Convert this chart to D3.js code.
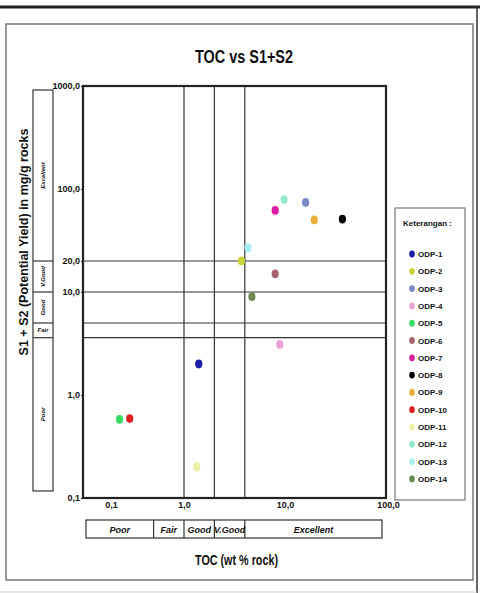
<!DOCTYPE html>
<html><head><meta charset="utf-8">
<script src="https://cdn.jsdelivr.net/npm/d3@7"></script>
<style>
html,body{margin:0;padding:0;background:#fff;}
text{font-family:"Liberation Sans Narrow","Arial Narrow","Liberation Sans",Arial,sans-serif;font-weight:bold;fill:#111;}
</style></head>
<body><svg id="c" width="480" height="593"></svg>
<script>
// ---- data ----
const wells = ["ODP-1","ODP-2","ODP-3","ODP-4","ODP-5","ODP-6","ODP-7","ODP-8","ODP-9","ODP-10","ODP-11","ODP-12","ODP-13","ODP-14"];
const toc   = [1.4, 3.7, 16, 8.9, 0.23, 8.0, 8.0, 37, 19.5, 0.29, 1.34, 9.8, 4.3, 4.7];
const s1s2  = [2.0, 20, 74, 3.1, 0.58, 15, 62, 51, 50, 0.59, 0.2, 79, 27, 9.0];
const colors = ["#1c1ca8","#c9d33c","#7b89c9","#eaa3d3","#35dc68","#a8636f","#dc1ca3","#000000","#e9b035","#dc2121","#eef0a8","#93e9cc","#a6f0f2","#6b8b52"];
const xTicks = [0.1, 1, 10, 100];
const xTickLabels = ["0,1","1,0","10,0","100,0"];
const yTicks = [0.1, 1, 10, 20, 100, 1000];
const yTickLabels = ["0,1","1,0","10,0","20,0","100,0","1000,0"];
const xGrid = [1, 2, 4];
const yGrid = [3.6, 5, 10, 20];
const xClassBounds = [0.5, 1, 2, 4];
const xClasses = ["Poor","Fair","Good","V.Good","Excellent"];
const yClassBounds = [3.6, 5, 10, 20];
const yClasses = ["Poor","Fair","Good","V.Good","Excellent"];

const svg = d3.select("#c");
// outer frames
svg.append("line").attr("x1",0).attr("x2",480).attr("y1",7).attr("y2",7).attr("stroke","#222").attr("stroke-width",3);
svg.append("line").attr("x1",477).attr("x2",477).attr("y1",6).attr("y2",593).attr("stroke","#333").attr("stroke-width",1.5);
svg.append("line").attr("x1",0).attr("x2",477).attr("y1",592).attr("y2",592).attr("stroke","#ccc").attr("stroke-width",1);
svg.append("rect").attr("x",6).attr("y",24).attr("width",467).attr("height",556).attr("fill","none").attr("stroke","#777").attr("stroke-width",1.5);

const x = d3.scaleLog().domain([0.1,100]).range([83,386]);
const y = d3.scaleLog().domain([0.1,1000]).range([498,86]);

// title
svg.append("text").attr("x",195).attr("y",63).style("font-size","19px")
  .attr("textLength",98).attr("lengthAdjust","spacingAndGlyphs").text("TOC  vs  S1+S2");

// grid
const g = svg.append("g");
g.selectAll(".vg").data(xGrid).join("line").attr("x1",d=>x(d)).attr("x2",d=>x(d)).attr("y1",y(1000)).attr("y2",y(0.1)).attr("stroke","#333").attr("stroke-width",1.2);
g.selectAll(".hg").data(yGrid).join("line").attr("x1",x(0.1)).attr("x2",x(100)).attr("y1",d=>y(d)).attr("y2",d=>y(d)).attr("stroke","#333").attr("stroke-width",1.2);
// frame
svg.append("rect").attr("x",x(0.1)).attr("y",y(1000)).attr("width",x(100)-x(0.1)).attr("height",y(0.1)-y(1000)).attr("fill","none").attr("stroke","#222").attr("stroke-width",2.2);

// axes
const xa = svg.append("g").attr("transform",`translate(0,${y(0.1)})`)
  .call(d3.axisBottom(x).tickValues(xTicks).tickSize(0).tickPadding(4).tickFormat((d,i)=>xTickLabels[i]));
xa.select(".domain").remove();
xa.selectAll("text").style("font-size","9px").attr("dx",(d,i)=>i===0?28:(i===3?2:0));
const ya = svg.append("g").attr("transform",`translate(${x(0.1)},0)`)
  .call(d3.axisLeft(y).tickValues(yTicks).tickSize(2).tickPadding(1).tickFormat((d,i)=>yTickLabels[i]));
ya.select(".domain").remove();
ya.selectAll("line").attr("stroke","#222");
ya.selectAll("text").style("font-size","9px");

// bottom class box
const bx0 = x(0.1)+3, bx1 = x(100)-4, by0 = 520, by1 = 538;
const xb = [bx0, ...xClassBounds.map(x), bx1];
svg.append("rect").attr("x",bx0).attr("y",by0).attr("width",bx1-bx0).attr("height",by1-by0).attr("fill","none").attr("stroke","#333").attr("stroke-width",1.2);
svg.selectAll(".xb").data(xClassBounds).join("line").attr("x1",d=>x(d)).attr("x2",d=>x(d)).attr("y1",by0).attr("y2",by1).attr("stroke","#333").attr("stroke-width",1.2);
svg.selectAll(".xbl").data(xClasses).join("text").attr("x",(d,i)=>(xb[i]+xb[i+1])/2).attr("y",by0+13)
  .attr("text-anchor","middle").style("font-size","9px").style("font-style","italic").text(d=>d);

// left class box
const lx0 = 33, lx1 = 53, ly0 = y(1000)+4, ly1 = y(0.1)-7;
const yb = [ly1, ...yClassBounds.map(y), ly0];
svg.append("rect").attr("x",lx0).attr("y",ly0).attr("width",lx1-lx0).attr("height",ly1-ly0).attr("fill","none").attr("stroke","#333").attr("stroke-width",1.2);
svg.selectAll(".yb").data(yClassBounds).join("line").attr("x1",lx0).attr("x2",lx1).attr("y1",d=>y(d)).attr("y2",d=>y(d)).attr("stroke","#333").attr("stroke-width",1.2);
yClasses.forEach((c,i)=>{
  const cy = (yb[i]+yb[i+1])/2, cx=(lx0+lx1)/2;
  const t = svg.append("text").style("font-size","6px").style("font-style","italic").attr("text-anchor","middle").text(c);
  if (c==="Fair") t.attr("x",cx).attr("y",cy+2);
  else t.attr("transform",`translate(${cx+2},${cy}) rotate(-90)`);
});

// axis titles
svg.append("text").attr("transform","translate(28,242) rotate(-90)").attr("text-anchor","middle").style("font-size","12.5px").text("S1 + S2 (Potential Yield) in mg/g rocks");
svg.append("text").attr("x",195).attr("y",565).style("font-size","15px")
  .attr("textLength",83).attr("lengthAdjust","spacingAndGlyphs").text("TOC (wt % rock)");

// points
svg.selectAll(".pt").data(wells).join("ellipse").attr("cx",(d,i)=>x(toc[i])).attr("cy",(d,i)=>y(s1s2[i]))
  .attr("rx",3.6).attr("ry",4.4).attr("fill",(d,i)=>colors[i]);

// legend
svg.append("rect").attr("x",395).attr("y",208).attr("width",70).attr("height",292).attr("fill","#fff").attr("stroke","#777").attr("stroke-width",1.2);
svg.append("text").attr("x",403).attr("y",226).style("font-size","8px").text("Keterangan :");
const lg = svg.selectAll(".lg").data(wells).join("g").attr("transform",(d,i)=>`translate(412,${254+i*17.3})`);
lg.append("ellipse").attr("rx",2.8).attr("ry",3.4).attr("fill",(d,i)=>colors[i]);
lg.append("text").attr("x",6).attr("y",3).style("font-size","8px").text(d=>d);
</script></body></html>
